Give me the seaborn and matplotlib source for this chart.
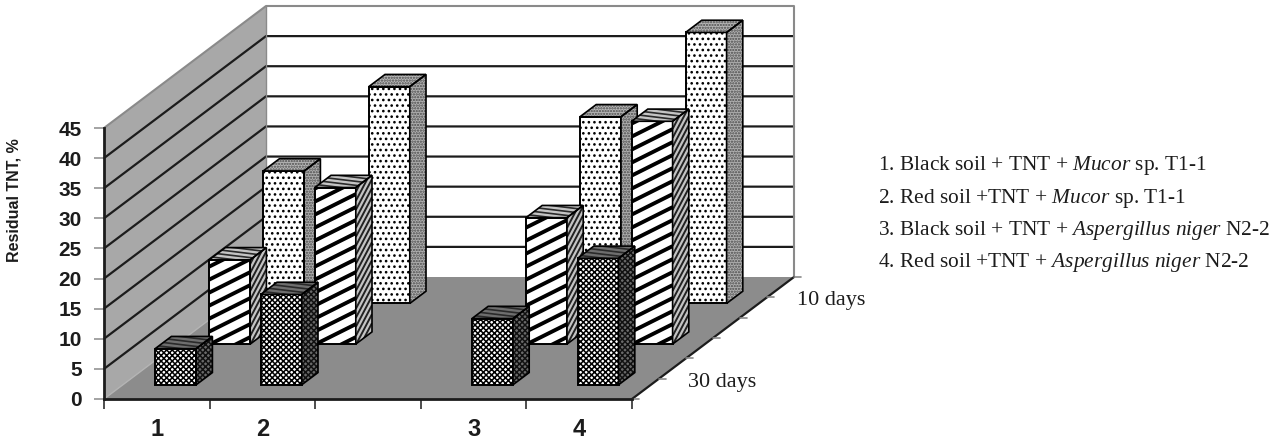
"""
Residual TNT, oblique 3D column chart drawn on stacked seaborn bar axes.
"""

import numpy as np
import pandas as pd
import matplotlib
matplotlib.use("Agg")
import matplotlib.pyplot as plt
from matplotlib.collections import LineCollection
from matplotlib.patches import Polygon
import seaborn as sns

CATEGORIES = ["1", "2", " ", "3", "4"]
VALUES_30_DAYS = [6, 15, np.nan, 11, 21]
VALUES_20_DAYS = [14, 26, np.nan, 21, 37]
VALUES_10_DAYS = [22, 36, np.nan, 31, 45]
Y_TICKS = [0, 5, 10, 15, 20, 25, 30, 35, 40, 45]
DEPTH_LABELS = ["30 days", "10 days"]
LEGEND_LINES = [
    r"1. Black soil + TNT + $\mathit{Mucor}$ sp. T1-1",
    r"2. Red soil +TNT + $\mathit{Mucor}$ sp. T1-1",
    r"3. Black soil + TNT + $\mathit{Aspergillus\ niger}$ N2-2",
    r"4. Red soil +TNT + $\mathit{Aspergillus\ niger}$ N2-2",
]

# chart frame, in figure pixels
W, H = 1273, 443
X0, Y0 = 104, 399          # front left floor corner
PLOT_W, PLOT_H = 528, 271  # front plane size
DEPTH_X, DEPTH_Y = 162, 122
N_ROWS = 3
SX = PLOT_W / len(CATEGORIES)   # pixels per category
SY = PLOT_H / max(Y_TICKS)      # pixels per value unit
BAR_WIDTH = 41 / SX
BAR_DEPTH = 0.3            # share of one row
BAR_START = 0.35

# ── Shared plot style ──────────────────────────────────────────────────────────
WALL = "#a8a8a8"
FLOOR = "#8c8c8c"
FRAME = "#8a8a8a"
INK = "#1c1c1c"

ROW_STYLE = {
    "30": dict(fhatch="xxxxxx", side="#6a6a6a", shatch="xxxxxx", shatch_color="#111111",
               top="#6e6e6e", stripes=False, cap_stripes=True),
    "20": dict(fhatch=None, side="#c4c4c4", shatch=None, shatch_color=None,
               top="#c4c4c4", stripes=True, cap_stripes=True),
    "10": dict(fhatch="...", side="#b0b0b0", shatch="......", shatch_color="#4a4a4a",
               top="#b8b8b8", stripes=False, cap_stripes=False),
}


def px_axes(fig, left, bottom, width, height, **kw):
    return fig.add_axes([left / W, 1 - bottom / H, width / W, height / H], **kw)


def project(cat, depth, value):
    """Chart coordinates (category edge, row edge, value) to image pixels."""
    return (X0 + cat * SX + depth / N_ROWS * DEPTH_X,
            Y0 - value * SY - depth / N_ROWS * DEPTH_Y)


def add_stripes(ax, patch, slope, pitch, lw, color):
    """Clipped parallel lines over a face; slope and pitch are given in pixels."""
    verts = patch.get_path().vertices
    verts = patch.get_patch_transform().transform(verts)
    xmin, ymin = verts.min(axis=0)
    xmax, ymax = verts.max(axis=0)
    rise = slope * SX / SY * (xmax - xmin)
    starts = np.arange(ymin - abs(rise) - 1, ymax + abs(rise) + 1, pitch / SY)
    segs = [[(xmin, c), (xmax, c + rise)] for c in starts]
    lines = LineCollection(segs, colors=color, linewidths=lw, zorder=2.1)
    ax.add_collection(lines, autolim=False)
    lines.set_clip_path(patch)


def add_face(ax, pts, fc, hatch=None, hatch_color="black"):
    """A side or top face: filled, optionally hatched, outline kept black."""
    face = Polygon(pts, fc=fc, ec=hatch_color if hatch else "none", lw=0, hatch=hatch, zorder=2, clip_on=False)
    ax.add_patch(face)
    ax.add_patch(Polygon(pts, fc="none", ec="black", lw=1.2, zorder=2.2, clip_on=False))
    return face


def draw_background(ax):
    """Walls, floor and their grid lines, in image pixel coordinates."""
    ax.set_xlim(0, W)
    ax.set_ylim(H, 0)
    ax.axis("off")
    top = max(Y_TICKS)
    n = len(CATEGORIES)
    ax.add_patch(Polygon([project(0, 0, 0), project(0, N_ROWS, 0), project(0, N_ROWS, top), project(0, 0, top)],
                         fc=WALL, ec="none"))
    ax.add_patch(Polygon([project(0, 0, 0), project(n, 0, 0), project(n, N_ROWS, 0), project(0, N_ROWS, 0)],
                         fc=FLOOR, ec="none"))
    for v in Y_TICKS[1:-1]:
        pts = [project(0, 0, v), project(0, N_ROWS, v), project(n, N_ROWS, v)]
        ax.plot(*zip(*pts), color=INK, lw=1.6, solid_joinstyle="miter")
    # outline of the walls
    pts = [project(0, 0, top), project(0, N_ROWS, top), project(n, N_ROWS, top), project(n, N_ROWS, 0)]
    ax.plot(*zip(*pts), color=FRAME, lw=1.5)
    ax.plot(*zip(project(0, N_ROWS, top), project(0, N_ROWS, 0)), color=FRAME, lw=1)
    ax.plot(*zip(project(0, 0, 0), project(0, N_ROWS, 0)), color="#b4b4b4", lw=1)
    ax.plot(*zip(project(n, 0, 0), project(n, N_ROWS, 0)), color=INK, lw=1.6)
    # depth ticks along the right floor edge
    for d in np.linspace(0, N_ROWS, 7):
        x, y = project(n, d, 0)
        ax.plot([x, x + 7], [y, y], color=FRAME, lw=1.2)


def draw_row(fig, row, values, style):
    """One row of columns: seaborn draws the fronts, sides and tops follow them."""
    left, bottom = project(0, row + BAR_START, 0)
    ax = px_axes(fig, left, bottom, PLOT_W, PLOT_H, zorder=5 - row)
    ax.patch.set_alpha(0)
    df = pd.DataFrame({"treatment": CATEGORIES, "residual": values})
    sns.barplot(data=df, x="treatment", y="residual", order=CATEGORIES, color="white",
                saturation=1, width=BAR_WIDTH, ax=ax)
    ax.set_xlim(-0.5, len(CATEGORIES) - 0.5)
    ax.set_ylim(0, max(Y_TICKS))
    ax.axis("off")

    off_x = BAR_DEPTH / N_ROWS * DEPTH_X / SX
    off_y = BAR_DEPTH / N_ROWS * DEPTH_Y / SY
    for bar in list(ax.patches):
        if not bar.get_height() > 0:
            continue
        x, w, h = bar.get_x(), bar.get_width(), bar.get_height()
        bar.set(facecolor="white", edgecolor="black", linewidth=1.4, zorder=2, clip_on=False)
        side = add_face(ax, [(x + w, 0), (x + w + off_x, off_y), (x + w + off_x, h + off_y), (x + w, h)],
                        style["side"], style["shatch"], style["shatch_color"])
        cap = add_face(ax, [(x, h), (x + off_x, h + off_y), (x + w + off_x, h + off_y), (x + w, h)],
                       style["top"], style["shatch"] if not style["cap_stripes"] else None,
                       style["shatch_color"])
        if style["fhatch"]:
            bar.set_hatch(style["fhatch"])
        if style["stripes"]:
            add_stripes(ax, bar, 0.5, 13, 2.8, "black")
            add_stripes(ax, side, 1.9, 9, 1.4, "#222222")
        if style["cap_stripes"]:
            add_stripes(ax, cap, -0.12, 4, 1.2, "#2a2a2a")


def main():
    sns.set_theme(style="white")
    plt.rcParams.update({
        "font.family": ["Liberation Sans", "DejaVu Sans"],
        "hatch.linewidth": 1.1,
        "mathtext.fontset": "custom",
        "mathtext.rm": "Liberation Serif",
        "mathtext.it": "Liberation Serif:italic",
    })
    fig = plt.figure(figsize=(W / 100, H / 100), dpi=100, facecolor="white")

    bg = fig.add_axes([0, 0, 1, 1], zorder=0)
    draw_background(bg)

    # front plane carries the value and category axes
    front = px_axes(fig, X0, Y0, PLOT_W, PLOT_H, zorder=1)
    front.patch.set_alpha(0)
    front.set_xlim(0, len(CATEGORIES))
    front.set_ylim(0, max(Y_TICKS))
    front.set_yticks(Y_TICKS)
    front.set_xticks(range(len(CATEGORIES) + 1))
    front.set_xticklabels([])
    front.set_xticks(np.arange(len(CATEGORIES)) + 0.5, minor=True)
    front.set_xticklabels(CATEGORIES, minor=True)
    front.tick_params(axis="x", which="major", bottom=True, length=7, width=1.1, color=INK)
    front.tick_params(axis="x", which="minor", bottom=False, pad=10, labelsize=17, labelcolor=INK)
    front.tick_params(axis="y", left=True, length=7, width=1.1, color=FRAME, pad=9,
                      labelsize=15, labelcolor=INK)
    for lab in front.get_xticklabels(minor=True) + front.get_yticklabels():
        lab.set_fontweight("bold")
    for name in ("top", "right"):
        front.spines[name].set_visible(False)
    for name in ("left", "bottom"):
        front.spines[name].set_color(INK)
        front.spines[name].set_linewidth(2)
    front.set_ylabel("")

    draw_row(fig, 2, VALUES_10_DAYS, ROW_STYLE["10"])
    draw_row(fig, 1, VALUES_20_DAYS, ROW_STYLE["20"])
    draw_row(fig, 0, VALUES_30_DAYS, ROW_STYLE["30"])

    fig.text(14 / W, 1 - 200 / H, "Residual TNT, %", rotation=90, ha="center", va="center",
             fontsize=11.5, fontweight="bold", color=INK)

    serif = ["Liberation Serif", "DejaVu Serif"]
    bg.text(688, 382, DEPTH_LABELS[0], family=serif, fontsize=16, color=INK, va="center")
    bg.text(797, 300, DEPTH_LABELS[1], family=serif, fontsize=16, color=INK, va="center")
    for line, y in zip(LEGEND_LINES, (165.5, 198.5, 230.5, 262.5)):
        bg.text(878, y, line, family=serif, fontsize=15.4, color=INK, va="center")

    fig.savefig("out.png", dpi=100)
    plt.close(fig)


if __name__ == "__main__":
    main()
